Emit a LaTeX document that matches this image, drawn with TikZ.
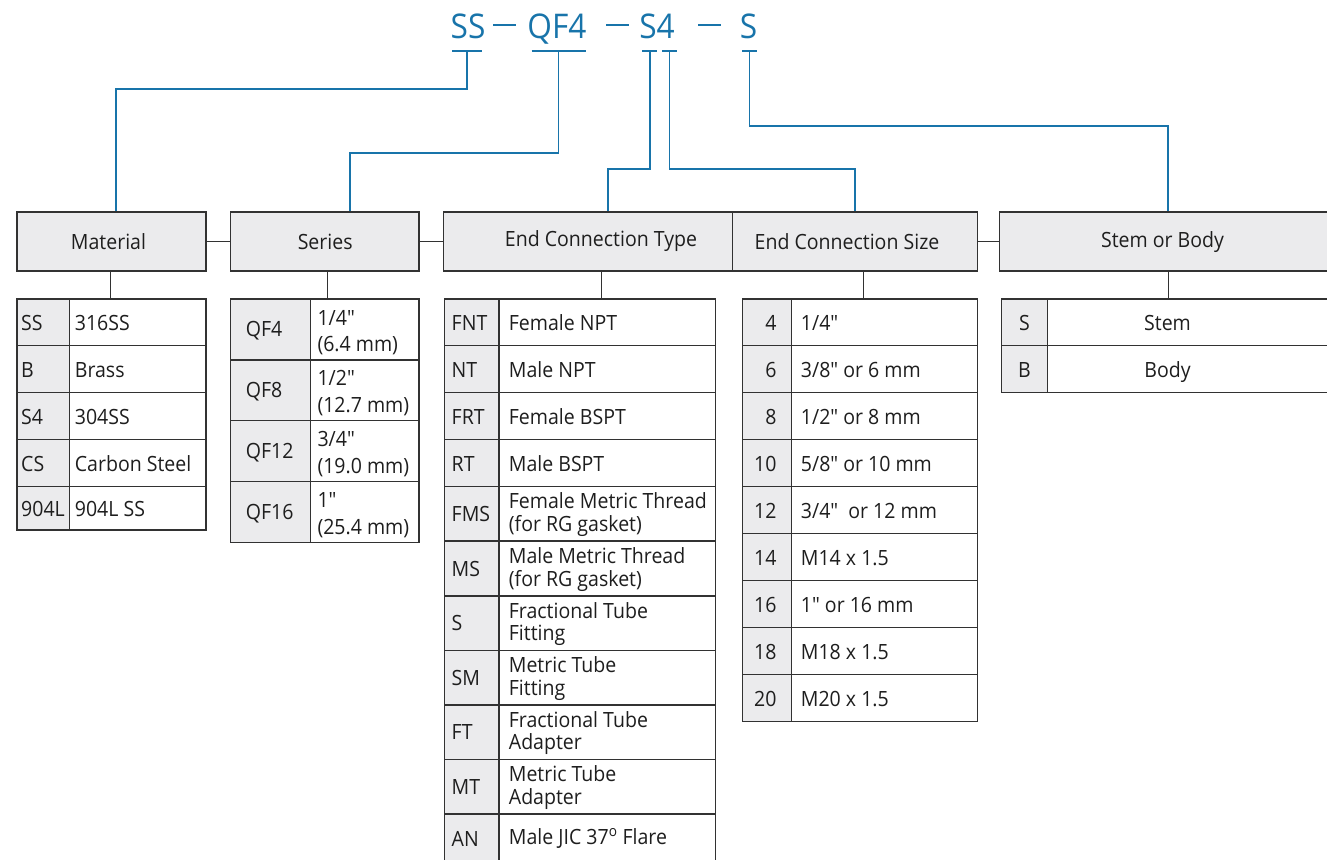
\documentclass[tikz,border=0pt]{standalone}
\usepackage{fontspec}
\setmainfont{Open Sans}[FakeStretch=0.93]
\font\quotefont="Open Sans:extend=0.93" at 21pt
\newcommand\qq{{\quotefont\char34}}
\definecolor{lineblue}{RGB}{24,116,170}
\definecolor{boxgray}{RGB}{235,235,237}
\definecolor{edge}{RGB}{50,50,50}
\definecolor{ink}{RGB}{30,30,30}
\begin{document}
\begin{tikzpicture}[x=1pt,y=-1pt,
  hbox/.style={draw=edge, fill=boxgray, line width=1.4pt, inner sep=0pt, minimum height=59pt},
  codecell/.style={draw=edge, fill=boxgray, line width=1.4pt, inner sep=0pt},
  desccell/.style={draw=edge, fill=white, line width=1.4pt, inner sep=0pt},
  frame/.style={draw=edge, line width=1.4pt, inner sep=0pt},
  conn/.style={draw=lineblue, line width=1.9pt},
  link/.style={draw=edge, line width=1.4pt},
  txt/.style={text=ink, inner sep=0pt, font=\fontsize{21}{24}\selectfont},
  ttl/.style={text=lineblue, inner sep=0pt, font=\fontsize{34}{40}\selectfont}]
\useasboundingbox (0,0) rectangle (1327,859);
\clip (0,0) rectangle (1327,859);

% ---------- title ----------
\node[ttl, anchor=base] (tSS) at (468,38) {SS};
\node[ttl, anchor=base] (tQF) at (557,38) {QF4};
\node[ttl, anchor=base] (tS4) at (657,38) {S4};
\node[ttl, anchor=base] (tS) at (748.5,38) {S};
\draw[lineblue, line width=2.2pt] (493,25) -- (516,25);
\draw[lineblue, line width=2.2pt] (606,25) -- (629,25);
\draw[lineblue, line width=2.2pt] (698,25) -- (721,25);

% ---------- header boxes ----------
\node[hbox, minimum width=189pt] (mat) at (111.5,241.5) {};
\node[hbox, minimum width=188.3pt] (ser) at (324.85,241.5) {};
\node[hbox, minimum width=289pt] (ect) at (588,241.5) {};
\node[hbox, minimum width=244.8pt] (ecs) at (854.9,241.5) {};
\node[hbox, minimum width=336.5pt] (sb) at (1167.75,241.5) {};
\node[txt, anchor=base] (matL) at (108.5,249.3) {Material};
\node[txt, anchor=base] (serL) at (325.2,249.3) {Series};
\node[txt, anchor=base] (ectL) at (601,246.7) {End Connection Type};
\node[txt, anchor=base] (ecsL) at (847,249.3) {End Connection Size};
\node[txt, anchor=base] (sbL) at (1162.5,247.7) {Stem or Body};
\draw[link] (mat.east) -- (ser.west);
\draw[link] (ser.east) -- (ect.west);
\draw[link] (ecs.east) -- (sb.west);

% ---------- blue connectors ----------
\coordinate (tapSS) at (467,50.7);
\coordinate (tapQF) at (558.5,50.7);
\coordinate (tapA) at (649.7,50.7);
\coordinate (tapB) at (669.5,50.7);
\coordinate (tapS) at (749.5,50.7);
\draw[conn] ([xshift=-15pt]tapSS) -- ([xshift=15pt]tapSS);
\draw[conn] ([xshift=-27pt]tapQF) -- ([xshift=27pt]tapQF);
\draw[conn] ([xshift=-7.5pt]tapA) -- ([xshift=7.5pt]tapA);
\draw[conn] ([xshift=-7.5pt]tapB) -- ([xshift=7.5pt]tapB);
\draw[conn] ([xshift=-7.5pt]tapS) -- ([xshift=7.5pt]tapS);
\draw[conn] (tapSS) -- ++(0,38.6) -| ([xshift=4.5pt]mat.north);
\draw[conn] (tapQF) -- ++(0,102.6) -| ([xshift=24.75pt]ser.north);
\draw[conn] (tapA) -- ++(0,118.6) -| ([xshift=19.7pt]ect.north);
\draw[conn] (tapB) -- ++(0,118.6) -| (ecs.north);
\draw[conn] (tapS) -- ++(0,75) -| (sb.north);

% ---------- stems ----------
\draw[link] ([xshift=-1.2pt]mat.south) -- ++(0,28);
\draw[link] ([xshift=2.45pt]ser.south) -- ++(0,28);
\draw[link] ([xshift=13.7pt]ect.south) -- ++(0,28);
\draw[link] ([xshift=8.8pt]ecs.south) -- ++(0,28);
\draw[link] ([xshift=0.95pt]sb.south) -- ++(0,28);

% ---------- Material table ----------
\foreach \i/\t/\b/\c/\d in {1/299/345.7/SS/316SS, 2/345.7/392.7/B/Brass, 3/392.7/439.7/S4/304SS, 4/439.7/486.7/CS/Carbon Steel, 5/486.7/530/904L/904L SS}{
  \node[codecell, minimum width=52.3pt, minimum height={\b-\t}] (mat-c\i) at (43.15,{(\t+\b)/2}) {};
  \node[desccell, minimum width=136.7pt, minimum height={\b-\t}] (mat-d\i) at (137.65,{(\t+\b)/2}) {};
  \node[txt, anchor=base west] (mat-ct\i) at (21,{(\t+\b)/2+8}) {\c};
  \node[txt, anchor=base west] (mat-dt\i) at (74.7,{(\t+\b)/2+8}) {\d};
}
\node[frame, minimum width=189pt, minimum height=231pt] (matT) at (111.5,414.5) {};

% ---------- Series table ----------
\foreach \i/\t/\b/\c/\d/\e in {1/299/360/QF4/{1/4\qq}/{(6.4 mm)}, 2/360/420.7/QF8/{1/2\qq}/{(12.7 mm)}, 3/420.7/481.7/QF12/{3/4\qq}/{(19.0 mm)}, 4/481.7/542.5/QF16/{1\qq}/{(25.4 mm)}}{
  \node[codecell, minimum width=80pt, minimum height={\b-\t}] (ser-c\i) at (270.7,{(\t+\b)/2}) {};
  \node[desccell, minimum width=108.3pt, minimum height={\b-\t}] (ser-d\i) at (364.85,{(\t+\b)/2}) {};
  \node[txt, anchor=base west] (ser-ct\i) at (245.7,{(\t+\b)/2+7}) {\c};
  \node[txt, anchor=base west] (ser-dt\i) at (317.3,{(\t+\b)/2-4.5}) {\d};
  \node[txt, anchor=base west] (ser-et\i) at (317.3,{(\t+\b)/2+22}) {\e};
}
\node[frame, minimum width=188.3pt, minimum height=243.5pt] (serT) at (324.85,420.75) {};

% ---------- End Connection Type table ----------
\foreach \i/\t/\b/\c/\d in {1/299/345.7/FNT/Female NPT, 2/345.7/392.7/NT/Male NPT, 3/392.7/439.7/FRT/Female BSPT, 4/439.7/486.7/RT/Male BSPT}{
  \node[codecell, minimum width=54.3pt, minimum height={\b-\t}] (ect-c\i) at (471.85,{(\t+\b)/2}) {};
  \node[desccell, minimum width=216.3pt, minimum height={\b-\t}] (ect-d\i) at (607.15,{(\t+\b)/2}) {};
  \node[txt, anchor=base west] (ect-ct\i) at (451.5,{(\t+\b)/2+8}) {\c};
  \node[txt, anchor=base west] (ect-dt\i) at (508.7,{(\t+\b)/2+8}) {\d};
}
\foreach \i/\t/\b/\c/\d/\e in {5/486.7/541/FMS/Female Metric Thread/(for RG gasket), 6/541/596/MS/Male Metric Thread/(for RG gasket), 7/596/650.3/S/Fractional Tube/Fitting, 8/650.3/705/SM/Metric Tube/Fitting, 9/705/759.3/FT/Fractional Tube/Adapter, 10/759.3/814/MT/Metric Tube/Adapter}{
  \node[codecell, minimum width=54.3pt, minimum height={\b-\t}] (ect-c\i) at (471.85,{(\t+\b)/2}) {};
  \node[desccell, minimum width=216.3pt, minimum height={\b-\t}] (ect-d\i) at (607.15,{(\t+\b)/2}) {};
  \node[txt, anchor=base west] (ect-ct\i) at (451.5,{(\t+\b)/2+7.5}) {\c};
  \node[txt, anchor=base west] (ect-dt\i) at (508.7,{(\t+\b)/2-5}) {\d};
  \node[txt, anchor=base west] (ect-et\i) at (508.7,{(\t+\b)/2+17.5}) {\e};
}
\node[codecell, minimum width=54.3pt, minimum height=52pt] (ect-c11) at (471.85,840) {};
\node[desccell, minimum width=216.3pt, minimum height=52pt] (ect-d11) at (607.15,840) {};
\node[txt, anchor=base west] (ect-ct11) at (451.5,846.5) {AN};
\node[txt, anchor=base west] (ect-dt11) at (508.7,844) {Male JIC 37\textsuperscript{o}\ Flare};
\node[frame, minimum width=270.6pt, minimum height=567pt] (ectT) at (580,582.5) {};

% ---------- End Connection Size table ----------
\foreach \i/\t/\b/\c/\d in {1/299/345.7/4/{1/4\qq}, 2/345.7/392.7/6/{3/8\qq\ or 6 mm}, 3/392.7/439.7/8/{1/2\qq\ or 8 mm}, 4/439.7/486.7/10/{5/8\qq\ or 10 mm}, 5/486.7/533.3/12/{3/4\qq\ \ or 12 mm}, 6/533.3/580.7/14/{M14 x 1.5}, 7/580.7/627.7/16/{1\qq\ or 16 mm}, 8/627.7/674.7/18/{M18 x 1.5}, 9/674.7/721.3/20/{M20 x 1.5}}{
  \node[codecell, minimum width=48.6pt, minimum height={\b-\t}] (ecs-c\i) at (767,{(\t+\b)/2}) {};
  \node[desccell, minimum width=186pt, minimum height={\b-\t}] (ecs-d\i) at (884.3,{(\t+\b)/2}) {};
  \node[txt, anchor=base east] (ecs-ct\i) at (776.7,{(\t+\b)/2+8}) {\c};
  \node[txt, anchor=base west] (ecs-dt\i) at (800.7,{(\t+\b)/2+8}) {\d};
}
\node[frame, minimum width=234.6pt, minimum height=422.3pt] (ecsT) at (860,510.15) {};

% ---------- Stem or Body table ----------
\foreach \i/\t/\b/\c/\d in {1/299/345.7/S/Stem, 2/345.7/392.7/B/Body}{
  \node[codecell, minimum width=45.6pt, minimum height={\b-\t}] (sb-c\i) at (1024.5,{(\t+\b)/2}) {};
  \node[desccell, minimum width=288.7pt, minimum height={\b-\t}] (sb-d\i) at (1191.65,{(\t+\b)/2}) {};
  \node[txt, anchor=base] (sb-ct\i) at (1024.5,{(\t+\b)/2+8}) {\c};
  \node[txt, anchor=base] (sb-dt\i) at (1167.5,{(\t+\b)/2+8}) {\d};
}
\node[frame, minimum width=334.3pt, minimum height=93.7pt] (sbT) at (1168.85,345.85) {};
\end{tikzpicture}
\end{document}
